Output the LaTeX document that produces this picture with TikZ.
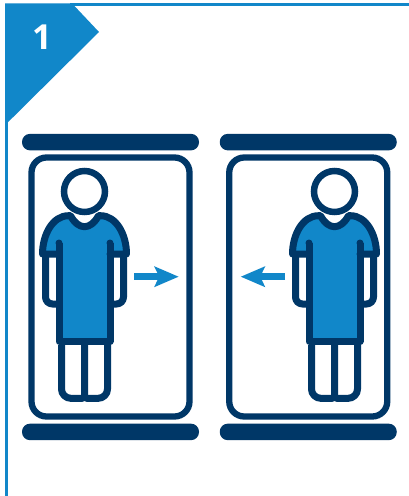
\documentclass[tikz,border=0pt]{standalone}
\usepackage{fontspec}
\usepackage{xcolor}
\usepackage{tikz}
\usetikzlibrary{arrows.meta, positioning}
\setsansfont{Open Sans}
\definecolor{primary}{HTML}{003767}
\definecolor{accent}{HTML}{1187C9}

\begin{document}
\begin{tikzpicture}[x=1pt, y=-1pt, >=Latex]
    \tikzstyle{cabin} = [rectangle, draw=primary, fill=white, rounded corners=15pt, minimum width=158pt, minimum height=259pt, line width=6.3pt]
    \tikzstyle{rail} = [rectangle, fill=primary, rounded corners=8pt, minimum width=177pt, minimum height=16.5pt, inner sep=0pt, outer sep=0pt]
    \tikzstyle{head} = [circle, draw=primary, fill=white, minimum size=41pt, inner sep=0pt, line width=6.5pt]
    \tikzstyle{outline} = [draw=primary, line width=7pt, line join=round]
    \tikzstyle{motion} = [draw=accent, line width=6.5pt, -{Stealth[length=24pt, width=20pt, inset=4.5pt]}]

    \useasboundingbox (0,0) rectangle (409,496);
    \fill [white] (0,0) rectangle (409,496);

    \draw [accent, line width=2.6pt] (70,4.7) -- (409,4.7);
    \draw [accent, line width=2.6pt] (6.4,120) -- (6.4,496);
    \fill [accent] (5,3.4) -- (72,3.4) -- (99,32) -- (7.7,122.5) -- (5,125) -- cycle;
    \node [text=white, font=\sffamily\bfseries\fontsize{34.5}{34.5}\selectfont, inner sep=0pt] (number) at (42,37) {1};

    \node [cabin] (cabinL) at (110.5,287) {};
    \node [cabin] (cabinR) at (308.25,287) {};
    \node [rail, above=4pt of cabinL] (railLtop) {};
    \node [rail, below=4pt of cabinL] (railLbot) {};
    \node [rail, above=4pt of cabinR] (railRtop) {};
    \node [rail, below=4pt of cabinR] (railRbot) {};

    \foreach \cx/\side in {84.5/L, 334.5/R} {
        \begin{scope}[xshift=\cx pt]
            \draw [outline, fill=white] (-39,254) -- (-39,297) arc[start angle=180, end angle=90, radius=7] -- (-25,304);
            \draw [outline, fill=white] (39,254) -- (39,297) arc[start angle=0, end angle=90, radius=7] -- (25,304);
            \draw [outline] (-23,345) -- (-23,389) arc[start angle=180, end angle=90, radius=9.3] -- (-2,398.3) -- (0,396.5) -- (0,345);
            \draw [outline] (23,345) -- (23,389) arc[start angle=0, end angle=90, radius=9.3] -- (2,398.3) -- (0,396.5);
            \fill [accent] (-16,215.7) .. controls (-32,215.7) and (-42,235) .. (-42,254) -- (-25.5,254) -- (-25.5,341.3) -- (25.5,341.3) -- (25.5,254) -- (42,254) .. controls (42,235) and (32,215.7) .. (16,215.7) -- (14,215.7) .. controls (10,223) and (5,226.7) .. (0,226.7) .. controls (-5,226.7) and (-10,223) .. (-14,215.7) -- cycle;
            \draw [outline] (-25.5,243) -- (-25.5,341.3) -- (25.5,341.3) -- (25.5,243);
            \draw [outline, line cap=round] (-25.5,254) -- (-42,254) .. controls (-42,235) and (-32,215.7) .. (-16,215.7) -- (-14,215.7) .. controls (-10,223) and (-5,226.7) .. (0,226.7) .. controls (5,226.7) and (10,223) .. (14,215.7) -- (16,215.7) .. controls (32,215.7) and (42,235) .. (42,254) -- (25.5,254);
            \fill [primary] (-25.5,243) circle (3.5pt) (25.5,243) circle (3.5pt);
            \node [head] (head\side) at (0,191.5) {};
        \end{scope}
    }

    \coordinate (fromL) at (134,276.7);
    \coordinate (toL) at (178.7,276.7);
    \coordinate (fromR) at (285,276.7);
    \coordinate (toR) at (240.7,276.7);
    \path [motion] (fromL) -- (toL);
    \path [motion] (fromR) -- (toR);
\end{tikzpicture}
\end{document}
